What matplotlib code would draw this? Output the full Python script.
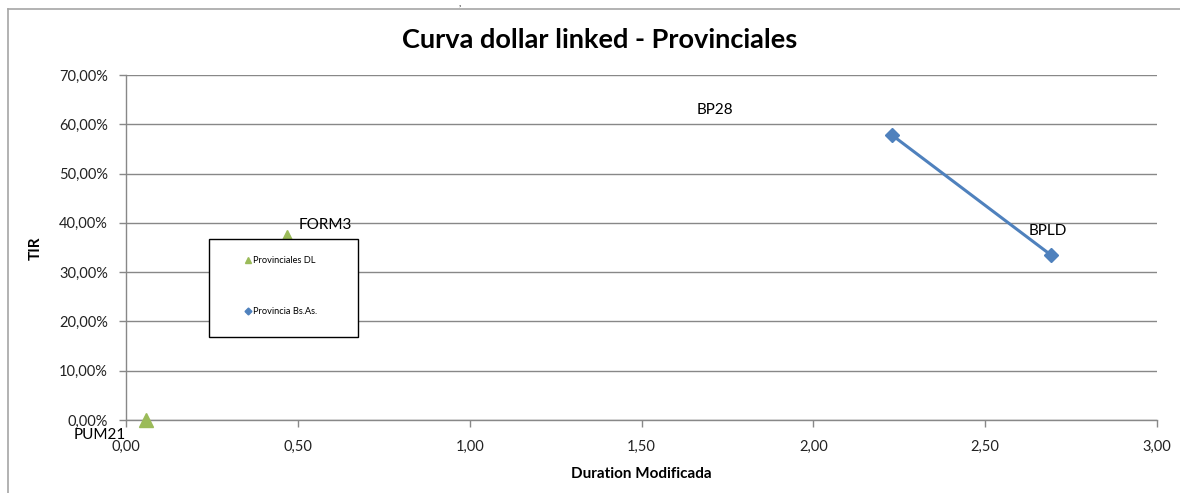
import matplotlib
matplotlib.use("Agg")
import matplotlib.pyplot as plt
from matplotlib.ticker import FuncFormatter, MultipleLocator
from matplotlib.patches import Rectangle
from matplotlib.lines import Line2D

plt.rcParams['font.family'] = ['Lato', 'DejaVu Sans']

# Data
prov_names = ["PUM21", "FORM3"]
prov_dur = [0.058, 0.468]
prov_tir = [0.0, 0.371]

bsas_names = ["BP28", "BPLD"]
bsas_dur = [2.229, 2.691]
bsas_tir = [0.578, 0.335]

# label offsets in pixels (dx, dy up)
prov_off = [(-46, -15), (38, 12)]
bsas_off = [(-177, 25), (-3, 24)]

W, H = 1180, 493
fig = plt.figure(figsize=(W / 100, H / 100), dpi=100)
fig.patch.set_edgecolor("none")
fig.patch.set_linewidth(0)

def fx(x):
    return x / W

def fy(y):
    return 1 - y / H

ax = fig.add_axes([fx(126), fy(420), fx(1157) - fx(126), fy(75) - fy(420)])

green = "#9BBB59"
blue = "#4F81BD"
grid_c = "#888888"

ax.plot(bsas_dur, bsas_tir, color=blue, lw=2.2, marker="D", ms=7, zorder=3,
        label="Provincia Bs.As.")
ax.plot(prov_dur, prov_tir, ls="none", color=green, marker="^", ms=10, zorder=3,
        label="Provinciales DL", clip_on=False)

for n, x, y, o in zip(prov_names, prov_dur, prov_tir, prov_off):
    ax.annotate(n, (x, y), xytext=o, textcoords="offset pixels", ha="center",
                va="center", fontsize=11, annotation_clip=False, zorder=5)
for n, x, y, o in zip(bsas_names, bsas_dur, bsas_tir, bsas_off):
    ax.annotate(n, (x, y), xytext=o, textcoords="offset pixels", ha="center",
                va="center", fontsize=11, annotation_clip=False, zorder=5)

ax.set_xlim(0, 3)
ax.set_ylim(0, 0.7)
ax.xaxis.set_major_locator(MultipleLocator(0.5))
ax.yaxis.set_major_locator(MultipleLocator(0.1))
ax.xaxis.set_major_formatter(FuncFormatter(lambda v, p: f"{v:.2f}".replace(".", ",")))
ax.yaxis.set_major_formatter(FuncFormatter(lambda v, p: f"{v*100:.2f}%".replace(".", ",")))
ax.grid(axis="y", color=grid_c, lw=1)
ax.set_axisbelow(True)
for s in ["top", "right"]:
    ax.spines[s].set_visible(False)
for s in ["left", "bottom"]:
    ax.spines[s].set_color(grid_c)
    ax.spines[s].set_linewidth(1)
ax.tick_params(axis="both", color=grid_c, length=5, width=1, labelsize=10.5,
               labelcolor="#222222")
ax.tick_params(axis="y", pad=8)
ax.tick_params(axis="x", pad=9)

ax.set_xlabel("Duration Modificada", fontsize=11, fontweight="bold")
ax.xaxis.set_label_coords(0.5, (420 - 467) / 345 + 0)
ax.set_ylabel("TIR", fontsize=11, fontweight="bold")
ax.yaxis.set_label_coords((43 - 126) / 1031, (420 - 248) / 345)

fig.text(fx(600), fy(40), "Curva dollar linked - Provinciales", ha="center",
         va="center", fontsize=19.5, fontweight="bold")

# legend box
rect = Rectangle((fx(209), fy(337)), fx(358) - fx(209), fy(239) - fy(337),
                 transform=fig.transFigure, facecolor="white", edgecolor="black",
                 lw=1, zorder=10)
fig.patches.append(rect)
handles = [Line2D([], [], ls="none", marker="^", color=green, ms=5),
           Line2D([], [], ls="none", marker="D", color=blue, ms=3.5)]
leg = fig.legend(handles, ["Provinciales DL", "Provincia Bs.As."],
                 loc="upper left", bbox_to_anchor=(fx(244), fy(256)),
                 frameon=False, fontsize=6.7, handlelength=0.8,
                 handletextpad=0.2, borderpad=0, borderaxespad=0,
                 labelspacing=4.5)
leg.set_zorder(11)

# outer chart border (top and left edges only visible)
fig.add_artist(Line2D([fx(8), 1.0], [fy(9), fy(9)], transform=fig.transFigure,
                      color="#A6A6A6", lw=1.2))
fig.add_artist(Line2D([fx(8), fx(8)], [fy(9), 0.0], transform=fig.transFigure,
                      color="#A6A6A6", lw=1.2))
fig.text(fx(460), fy(4), ",", fontsize=7, ha="center", va="center")

fig.savefig("out.png", dpi=100)
